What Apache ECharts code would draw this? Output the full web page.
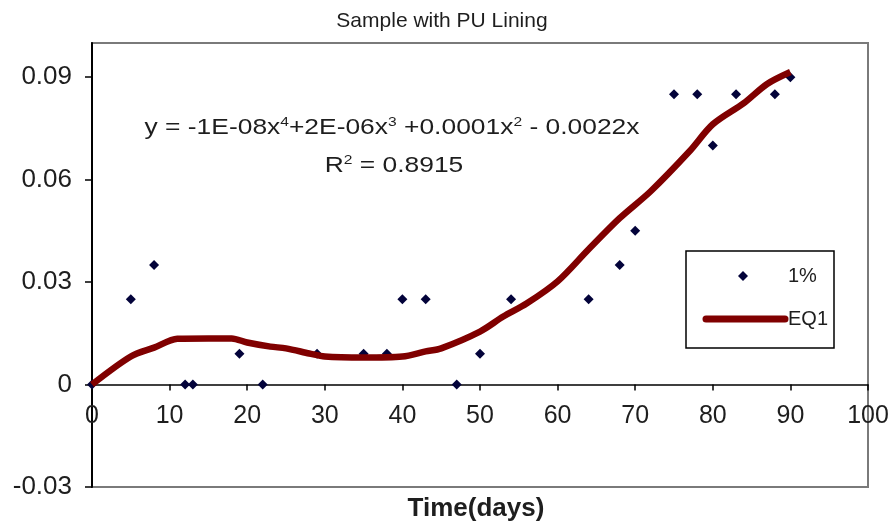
<!DOCTYPE html>
<html>
<head>
<meta charset="utf-8">
<script src="https://cdn.jsdelivr.net/npm/echarts@6/dist/echarts.min.js"></script>
<style>
  html, body { margin: 0; padding: 0; background: #fff; }
  #chart { width: 893px; height: 527px; }
</style>
</head>
<body>
<div id="chart"></div>
<script>
// Measured samples (day, value) for the 1% series
const sampleDays   = [0, 5, 8, 12, 13, 19, 22, 29, 35, 38, 40, 43, 47, 50, 54, 64, 68, 70, 75, 78, 80, 83, 88, 90];
const sampleValues = [0, 0.025, 0.035, 0, 0, 0.009, 0, 0.009, 0.009, 0.009, 0.025, 0.025, 0, 0.009, 0.025, 0.025, 0.035, 0.045, 0.085, 0.085, 0.07, 0.085, 0.085, 0.09];

// Fitted trend EQ1 (day, value)
const fitDays   = [0, 5, 8, 11, 15, 18, 20, 23, 25, 28, 30, 35, 40, 43, 45, 50, 53, 56, 60, 64, 68, 72, 77, 80, 84, 87, 90];
const fitValues = [0, 0.0082, 0.0108, 0.0134, 0.0135, 0.0135, 0.0123, 0.0111, 0.0106, 0.0091, 0.0082, 0.0079, 0.0082, 0.0097, 0.0106, 0.0155, 0.0199, 0.0237, 0.0302, 0.0396, 0.0487, 0.0566, 0.0683, 0.0762, 0.0824, 0.088, 0.0915];

const yTickLabels = ['-0.03', '0', '0.03', '0.06', '0.09'];
const xTickLabels = ['0', '10', '20', '30', '40', '50', '60', '70', '80', '90', '100'];

const chartTitle = 'Sample with PU Lining';
const xTitle = 'Time(days)';
const seriesNames = ['1%', 'EQ1'];
const fitEquation = 'y = -1E-08x{s|4}+2E-06x{s|3} +0.0001x{s|2} - 0.0022x';
const fitR2 = 'R{s|2} = 0.8915';

const FONT = '"Liberation Sans", Arial, Helvetica, sans-serif';
const TEXT = '#1e1e1e';
const MARK = '#03033a';
const FIT = '#800000';

const supRich = { s: { fontFamily: FONT, fontSize: 13, verticalAlign: 'top', padding: [0, 0, 12, 0], fill: TEXT } };

const chart = echarts.init(document.getElementById('chart'), null, { renderer: 'canvas' });

chart.setOption({
  animation: false,
  backgroundColor: '#ffffff',
  title: {
    text: chartTitle,
    left: 437,
    textAlign: 'center',
    top: 6,
    textStyle: { fontFamily: FONT, fontSize: 21, fontWeight: 'normal', color: TEXT }
  },
  grid: {
    left: 92, right: 25, top: 43, bottom: 40,
    show: true, borderColor: '#7a7a7a', borderWidth: 2, backgroundColor: '#fff'
  },
  xAxis: {
    type: 'value',
    min: 0, max: 100, interval: 10,
    axisLine: { onZero: true, lineStyle: { color: '#000', width: 1.5 } },
    axisTick: { show: true, inside: false, length: 6, lineStyle: { color: '#000', width: 1.5 } },
    axisLabel: {
      // labels sit just under the zero line, measured from the grid's bottom edge
      margin: -83,
      fontFamily: FONT, fontSize: 25, color: TEXT,
      formatter: (v) => xTickLabels[Math.round(v / 10)] ?? ''
    },
    splitLine: { show: false }
  },
  yAxis: {
    type: 'value',
    min: -0.03, max: 0.1, interval: 0.03,
    axisLine: { show: true, lineStyle: { color: '#000', width: 2 } },
    axisTick: { show: true, inside: false, length: 7, lineStyle: { color: '#000', width: 1.5 } },
    axisLabel: {
      margin: 20,
      showMaxLabel: false,
      fontFamily: FONT, fontSize: 26, color: TEXT,
      formatter: (v) => {
        const i = Math.round((v + 0.03) / 0.03);
        return Math.abs(v - (-0.03 + i * 0.03)) < 1e-9 ? (yTickLabels[i] ?? '') : '';
      }
    },
    splitLine: { show: false }
  },
  graphic: [
    // trend-line equation and fit quality
    {
      type: 'text', x: 392, y: 128, scaleX: 1.2, z: 10,
      style: {
        text: fitEquation, textAlign: 'center', textVerticalAlign: 'middle',
        fontFamily: FONT, fontSize: 22, fill: TEXT, rich: supRich
      }
    },
    {
      type: 'text', x: 394, y: 166, scaleX: 1.2, z: 10,
      style: {
        text: fitR2, textAlign: 'center', textVerticalAlign: 'middle',
        fontFamily: FONT, fontSize: 22, fill: TEXT, rich: supRich
      }
    },
    // horizontal axis title
    {
      type: 'text', x: 476, y: 509, z: 10,
      style: {
        text: xTitle, textAlign: 'center', textVerticalAlign: 'middle',
        fontFamily: FONT, fontSize: 26, fontWeight: 'bold', fill: TEXT
      }
    },
    // legend box
    {
      type: 'group', z: 20,
      children: [
        { type: 'rect', shape: { x: 686, y: 251, width: 148, height: 97 },
          style: { fill: '#fff', stroke: '#000', lineWidth: 1.5 } },
        { type: 'polygon', shape: { points: [[743, 271], [748, 276], [743, 281], [738, 276]] },
          style: { fill: MARK } },
        { type: 'text', x: 788, y: 276,
          style: { text: seriesNames[0], textVerticalAlign: 'middle', fontFamily: FONT, fontSize: 20, fill: TEXT } },
        { type: 'line', shape: { x1: 706, y1: 319, x2: 785, y2: 319 },
          style: { stroke: FIT, lineWidth: 7, lineCap: 'round' } },
        { type: 'text', x: 788, y: 319,
          style: { text: seriesNames[1], textVerticalAlign: 'middle', fontFamily: FONT, fontSize: 20, fill: TEXT } }
      ]
    }
  ],
  series: [
    {
      name: seriesNames[0],
      type: 'scatter',
      symbol: 'diamond',
      symbolSize: 10,
      itemStyle: { color: MARK, opacity: 1 },
      z: 3,
      data: sampleDays.map((d, i) => [d, sampleValues[i]])
    },
    {
      name: seriesNames[1],
      type: 'line',
      showSymbol: false,
      symbol: 'none',
      smooth: 0.3,
      lineStyle: { color: FIT, width: 6.5 },
      itemStyle: { color: FIT },
      z: 4,
      data: fitDays.map((d, i) => [d, fitValues[i]])
    }
  ]
});
</script>
</body>
</html>
